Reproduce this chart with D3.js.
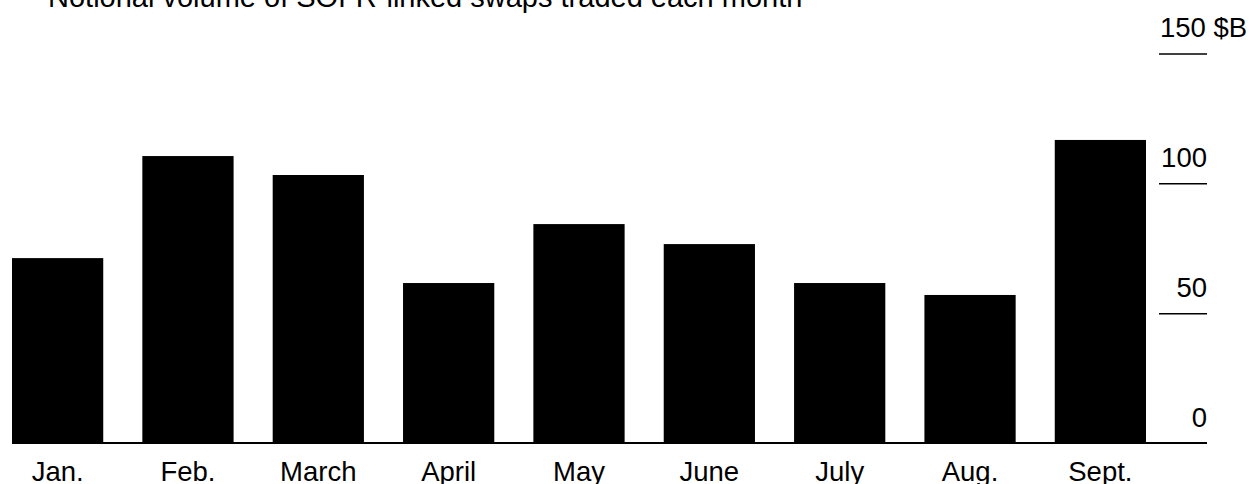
<!DOCTYPE html>
<html>
<head>
<meta charset="utf-8">
<script src="https://cdn.jsdelivr.net/npm/d3@7/dist/d3.min.js"></script>
<style>
  html, body { margin: 0; padding: 0; background: #fff; }
  svg { display: block; }
  text { font-family: "Liberation Sans", Arial, sans-serif; fill: #000; }
</style>
</head>
<body>
<svg id="chart" width="1253" height="484"></svg>
<script>
const title = "Notional volume of SOFR-linked swaps traded each month";
const months = ["Jan.", "Feb.", "March", "April", "May", "June", "July", "Aug.", "Sept."];
const volumes = [71.4, 110.7, 103.4, 61.8, 84.5, 76.8, 61.8, 57.2, 116.9];
const yTicks = [0, 50, 100, 150];
const yTickLabels = ["0", "50", "100", "150 $B"];

const svg = d3.select("#chart");

const x = d3.scaleBand().domain(months).range([12, 1146]).paddingInner(0.3).paddingOuter(0);
const y = d3.scaleLinear().domain([0, 150]).range([443.5, 54]);

svg.append("text")
  .attr("x", 48).attr("y", 7)
  .attr("font-size", 29)
  .text(title);

svg.append("g").selectAll("rect").data(volumes).join("rect")
  .attr("x", (d, i) => x(months[i]))
  .attr("width", x.bandwidth())
  .attr("y", d => y(d))
  .attr("height", d => y(0) - y(d))
  .attr("fill", "#000");

// y axis on right
const ax = svg.append("g");
yTicks.forEach((t, i) => {
  if (t !== 0) {
    ax.append("line")
      .attr("x1", 1159).attr("x2", 1207)
      .attr("y1", y(t)).attr("y2", y(t))
      .attr("stroke", "#000").attr("stroke-width", 1.5);
  }
  const lbl = ax.append("text")
    .attr("y", y(t) - 17)
    .attr("font-size", 27.5);
  if (i === yTicks.length - 1) {
    lbl.attr("x", 1160).attr("text-anchor", "start").text(yTickLabels[i]);
  } else {
    lbl.attr("x", 1207).attr("text-anchor", "end").text(yTickLabels[i]);
  }
});

// baseline
svg.append("line")
  .attr("x1", 12).attr("x2", 1207)
  .attr("y1", y(0) - 0.5).attr("y2", y(0) - 0.5)
  .attr("stroke", "#000").attr("stroke-width", 1.8);

// month labels
svg.append("g").selectAll("text").data(months).join("text")
  .attr("x", d => x(d) + x.bandwidth() / 2)
  .attr("y", 480.5)
  .attr("text-anchor", "middle")
  .attr("font-size", 27.5)
  .text(d => d);
</script>
</body>
</html>
